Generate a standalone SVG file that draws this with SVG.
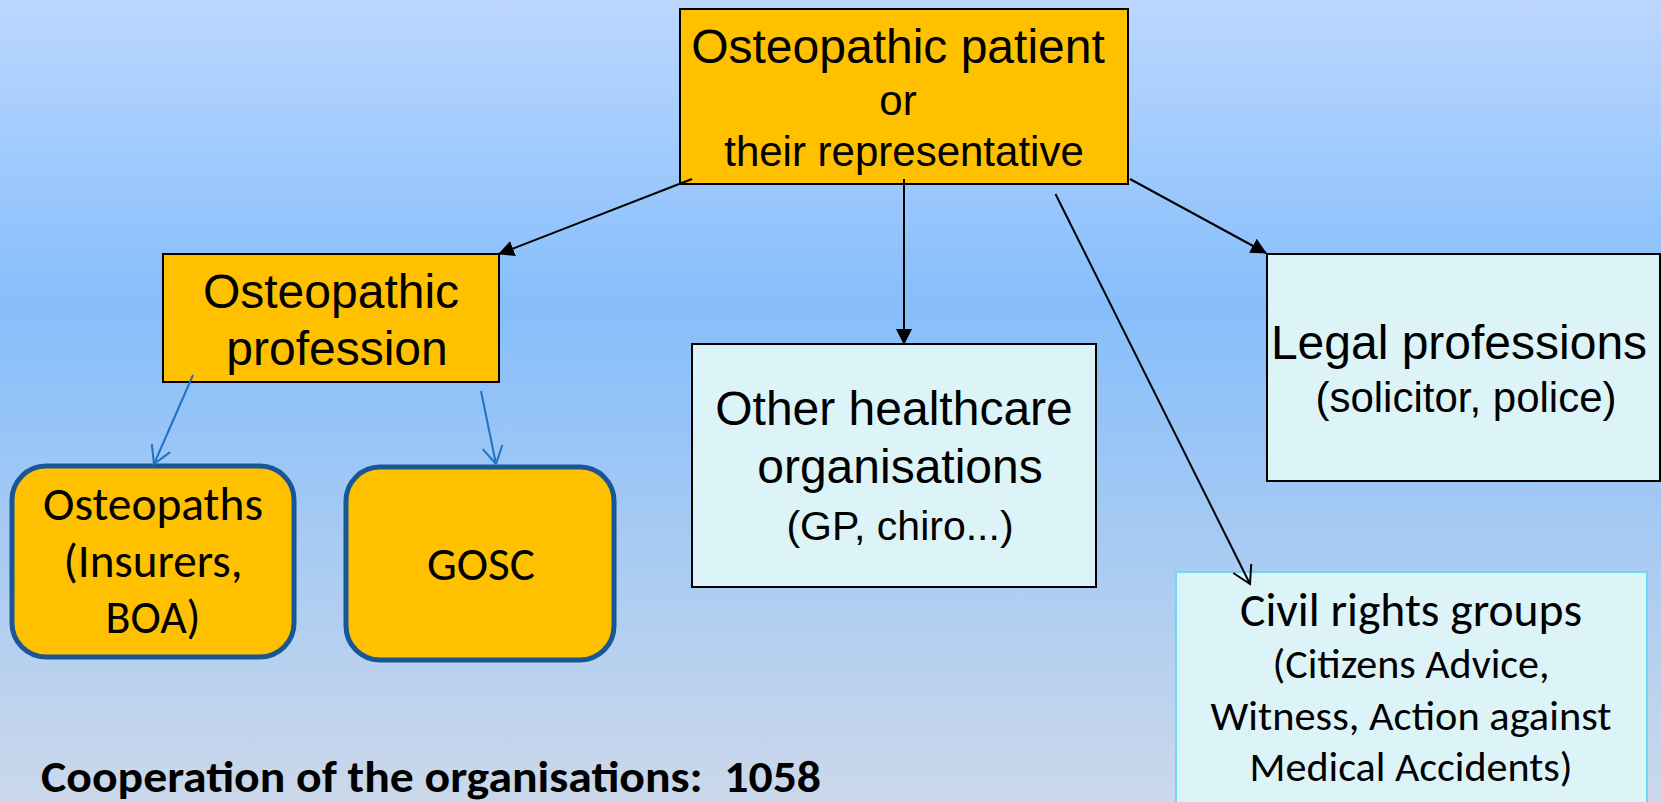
<svg xmlns="http://www.w3.org/2000/svg" width="1661" height="802" viewBox="0 0 1661 802">
  <defs>
    <linearGradient id="bg" x1="0" y1="0" x2="0" y2="1">
      <stop offset="0" stop-color="#BCD7FF"/>
      <stop offset="0.38" stop-color="#86BEFB"/>
      <stop offset="1" stop-color="#CBD8EA"/>
    </linearGradient>
    <marker id="tri" viewBox="0 0 16 16" refX="15" refY="8" markerWidth="16" markerHeight="16" markerUnits="userSpaceOnUse" orient="auto">
      <path d="M0,0 L16,8 L0,16 z" fill="#000"/>
    </marker>
    <marker id="vblack" viewBox="-20 -12 22 24" refX="0" refY="0" markerWidth="22" markerHeight="24" markerUnits="userSpaceOnUse" orient="auto">
      <path d="M-17.3,-10 L0,0 L-17.3,10" fill="none" stroke="#000" stroke-width="2"/>
    </marker>
    <marker id="vblue" viewBox="-20 -12 22 24" refX="0" refY="0" markerWidth="22" markerHeight="24" markerUnits="userSpaceOnUse" orient="auto">
      <path d="M-17.3,-10 L0,0 L-17.3,10" fill="none" stroke="#1F72C6" stroke-width="2"/>
    </marker>
  </defs>
  <style>
    .orange { fill: #FFC000; stroke: #000; stroke-width: 2; }
    .cyan { fill: #DCF4F8; stroke: #000; stroke-width: 2; }
    .civil { fill: #DCF4F8; stroke: #6ED8F3; stroke-width: 2; }
    .round { fill: #FFC000; stroke: #195695; stroke-width: 5; }
    .ar { font-family: "Liberation Sans", Arial, sans-serif; fill: #000; text-anchor: middle; }
    .ca { font-family: Carlito, Lato, "Noto Sans", sans-serif; fill: #000; text-anchor: middle; }
    .blk { stroke: #000; stroke-width: 2; fill: none; }
    .blu { stroke: #1F72C6; stroke-width: 2; fill: none; }
  </style>
  <rect x="0" y="0" width="1661" height="802" fill="url(#bg)"/>

  <g id="patient">
    <rect class="orange" x="680" y="9" width="448" height="175"/>
    <text class="ar" x="898" y="62.5" font-size="48">Osteopathic patient</text>
    <text class="ar" x="898" y="115" font-size="42">or</text>
    <text class="ar" x="904" y="166" font-size="42">their representative</text>
  </g>

  <g id="profession">
    <rect class="orange" x="163" y="254" width="336" height="128"/>
    <text class="ar" x="331" y="308" font-size="48">Osteopathic</text>
    <text class="ar" x="337" y="365" font-size="48">profession</text>
  </g>

  <g id="osteopaths">
    <rect class="round" x="12" y="466" width="282" height="191" rx="34" ry="34"/>
    <text class="ca" x="153" y="520" font-size="47" textLength="220" lengthAdjust="spacingAndGlyphs">Osteopaths</text>
    <text class="ca" x="153" y="577" font-size="47" textLength="179" lengthAdjust="spacingAndGlyphs">(Insurers,</text>
    <text class="ca" x="153" y="633" font-size="47" textLength="95" lengthAdjust="spacingAndGlyphs">BOA)</text>
  </g>

  <g id="gosc">
    <rect class="round" x="346" y="467" width="268" height="193" rx="34" ry="34"/>
    <text class="ca" x="481" y="580" font-size="47" textLength="108" lengthAdjust="spacingAndGlyphs">GOSC</text>
  </g>

  <g id="healthcare">
    <rect class="cyan" x="692" y="344" width="404" height="243"/>
    <text class="ar" x="894" y="425" font-size="48">Other healthcare</text>
    <text class="ar" x="900" y="483" font-size="48">organisations</text>
    <text class="ar" x="900" y="540" font-size="41">(GP, chiro...)</text>
  </g>

  <g id="legal">
    <rect class="cyan" x="1267" y="254" width="393" height="227"/>
    <text class="ar" x="1459" y="359" font-size="48">Legal professions</text>
    <text class="ar" x="1466" y="412" font-size="42">(solicitor, police)</text>
  </g>

  <g id="civil">
    <rect class="civil" x="1176" y="572" width="471" height="240"/>
    <text class="ca" x="1411" y="626" font-size="47" textLength="342" lengthAdjust="spacingAndGlyphs">Civil rights groups</text>
    <text class="ca" x="1411" y="678" font-size="42" textLength="277" lengthAdjust="spacingAndGlyphs">(Citizens Advice,</text>
    <text class="ca" x="1411" y="730" font-size="42" textLength="401" lengthAdjust="spacingAndGlyphs">Witness, Action against</text>
    <text class="ca" x="1411" y="781" font-size="42" textLength="323" lengthAdjust="spacingAndGlyphs">Medical Accidents)</text>
  </g>

  <g id="caption">
    <text x="41" y="792" font-family="Carlito, Lato, 'Noto Sans', sans-serif" font-weight="bold" font-size="44" textLength="780" lengthAdjust="spacingAndGlyphs" xml:space="preserve">Cooperation of the organisations:  1058</text>
  </g>

  <g id="connectors">
    <line class="blk" x1="692" y1="179" x2="499" y2="254" marker-end="url(#tri)"/>
    <line class="blk" x1="904" y1="179" x2="904" y2="344" marker-end="url(#tri)"/>
    <line class="blk" x1="1130" y1="179" x2="1266" y2="253" marker-end="url(#tri)"/>
    <line class="blk" x1="1055.5" y1="194" x2="1250" y2="584" marker-end="url(#vblack)"/>
    <line class="blu" x1="193" y1="375" x2="154" y2="464" marker-end="url(#vblue)"/>
    <line class="blu" x1="481" y1="391" x2="496" y2="464" marker-end="url(#vblue)"/>
  </g>
</svg>
